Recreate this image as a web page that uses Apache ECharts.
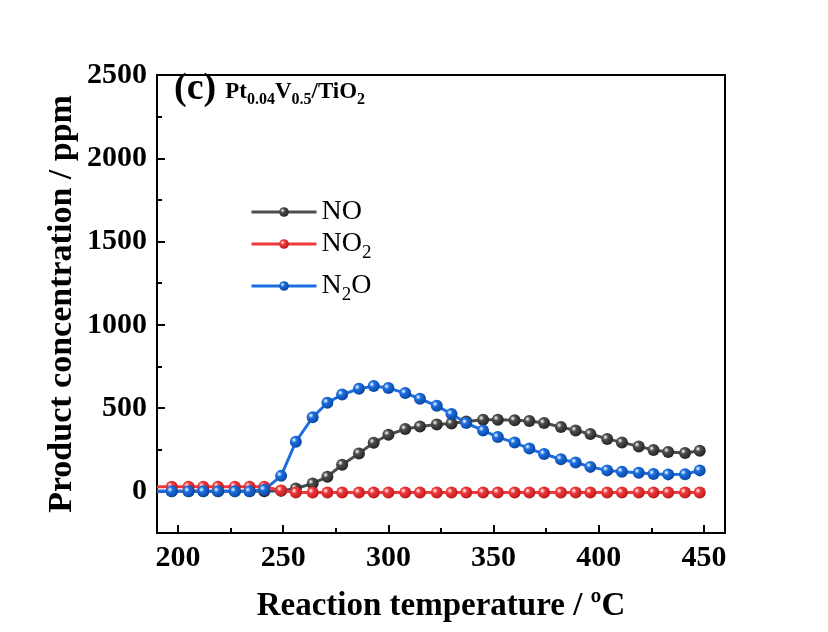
<!DOCTYPE html>
<html>
<head>
<meta charset="utf-8">
<script src="https://cdn.jsdelivr.net/npm/echarts@6/dist/echarts.min.js"></script>
<style>
  html, body {margin: 0; padding: 0; background: #fff;}
  #chart {width: 828px; height: 632px;}
</style>
</head>
<body>
<div id="chart"></div>
<script>
// temperatures of the plotted points (°C)
const temps = [190, 197, 205, 212, 219, 227, 234, 241, 249, 256, 264, 271, 278, 286, 293, 300, 308, 315, 323,
  330, 337, 345, 352, 360, 367, 374, 382, 389, 396, 404, 411, 419, 426, 433, 441, 448, 450];
// product concentrations (ppm)
const noVals = [0, 0, 0, 0, 0, 0, 0, 0, 3, 17, 47, 88, 160, 228, 292, 340, 374, 389, 402,
  408, 419, 430, 430, 427, 423, 410, 386, 365, 345, 315, 294, 270, 248, 237, 230, 244, 240];
const no2Vals = [28, 28, 28, 28, 28, 28, 28, 28, 5, -7, -7, -7, -7, -7, -7, -7, -7, -7, -7,
  -7, -7, -7, -7, -7, -7, -7, -7, -7, -7, -7, -7, -7, -7, -7, -7, -7, -7];
const n2oVals = [0, 0, 0, 0, 0, 0, 0, 9, 93, 298, 445, 532, 581, 616, 632, 620, 590, 556, 514,
  464, 410, 366, 326, 293, 257, 224, 193, 173, 147, 126, 118, 112, 104, 102, 103, 126, 128];

const xMajor = [200, 250, 300, 350, 400, 450];
const xMinor = [225, 275, 325, 375, 425];
const yMajor = [0, 500, 1000, 1500, 2000, 2500];
const yMinor = [250, 750, 1250, 1750, 2250];

const FONT = "'Liberation Serif', 'Times New Roman', serif";

const ball = (base, dark) => ({
  type: 'radial', x: 0.35, y: 0.35, r: 0.75,
  colorStops: [
    {offset: 0, color: '#ffffff'},
    {offset: 0.3, color: base},
    {offset: 1, color: dark}
  ]
});

const mkData = (vals) => temps.map((t, i) => {
  if (i === 0 || i === temps.length - 1) return {value: [t, vals[i]], symbol: 'none'};
  return [t, vals[i]];
});

const mkSeries = (name, vals, base, dark) => ({
  name: name,
  type: 'line',
  data: mkData(vals),
  symbol: 'circle',
  symbolSize: 12,
  showSymbol: true,
  lineStyle: {color: base, width: 3},
  itemStyle: {color: ball(base, dark), borderWidth: 0},
  emphasis: {disabled: true},
  animation: false
});

const rich = {
  n: {fontFamily: FONT, fontSize: 28, color: '#000'},
  s: {fontFamily: FONT, fontSize: 19, color: '#000', padding: [18, 0, 0, 0]}
};
const legendLabel = {NO: '{n|NO}', NO2: '{n|NO}{s|2}', N2O: '{n|N}{s|2}{n|O}'};
const mkLegend = (name, top) => ({
  data: [name],
  left: 250,
  top: top,
  padding: 0,
  itemWidth: 65,
  itemHeight: 12,
  itemGap: 0,
  lineStyle: {width: 3},
  formatter: (n) => legendLabel[n],
  textStyle: {rich: rich, fontFamily: FONT, fontSize: 28, color: '#000'}
});

const chart = echarts.init(document.getElementById('chart'));
chart.setOption({
  backgroundColor: '#ffffff',
  animation: false,
  grid: {left: 157, right: 103, top: 75, bottom: 99, show: true, borderColor: '#000', borderWidth: 2},
  legend: [mkLegend('NO', 198), mkLegend('NO2', 230), mkLegend('N2O', 272)],
  graphic: [{
    type: 'text',
    left: 174,
    top: 70,
    style: {
      text: '{c|(c)}{g| }{b|Pt}{s|0.04}{b|V}{s|0.5}{b|/TiO}{s|2}',
      rich: {
        c: {fontFamily: FONT, fontSize: 38, fontWeight: 'bold', color: '#000'},
        g: {fontFamily: FONT, fontSize: 22, width: 9},
        b: {fontFamily: FONT, fontSize: 23, fontWeight: 'bold', color: '#000', padding: [6, 0, 0, 0]},
        s: {fontFamily: FONT, fontSize: 16, fontWeight: 'bold', color: '#000', padding: [22, 0, 0, 0]}
      }
    }
  }],
  xAxis: [{
    type: 'value',
    min: 190,
    max: 460,
    position: 'bottom',
    name: 'Reaction temperature / ºC',
    nameLocation: 'middle',
    nameGap: 57,
    nameMoveOverlap: false,
    nameTextStyle: {fontFamily: FONT, fontSize: 33, fontWeight: 'bold', color: '#000'},
    axisLine: {show: true, onZero: false, lineStyle: {color: '#000', width: 2}},
    axisTick: {show: true, inside: true, length: 8, customValues: xMajor, lineStyle: {color: '#000', width: 2}},
    axisLabel: {customValues: xMajor, margin: 10, formatter: (v) => String(v),
      fontFamily: FONT, fontSize: 30, fontWeight: 'bold', color: '#000'},
    splitLine: {show: false}
  }, {
    type: 'value',
    min: 190,
    max: 460,
    position: 'bottom',
    axisLine: {show: false, onZero: false},
    axisTick: {show: true, inside: true, length: 5, customValues: xMinor, lineStyle: {color: '#000', width: 2}},
    axisLabel: {show: false},
    splitLine: {show: false}
  }],
  yAxis: [{
    type: 'value',
    min: -250,
    max: 2500,
    position: 'left',
    name: 'Product concentration / ppm',
    nameLocation: 'middle',
    nameGap: 78,
    nameMoveOverlap: false,
    nameTextStyle: {fontFamily: FONT, fontSize: 34, fontWeight: 'bold', color: '#000'},
    axisLine: {show: true, onZero: false, lineStyle: {color: '#000', width: 2}},
    axisTick: {show: true, inside: true, length: 8, customValues: yMajor, lineStyle: {color: '#000', width: 2}},
    axisLabel: {customValues: yMajor, margin: 10, formatter: (v) => String(v),
      fontFamily: FONT, fontSize: 30, fontWeight: 'bold', color: '#000'},
    splitLine: {show: false}
  }, {
    type: 'value',
    min: -250,
    max: 2500,
    position: 'left',
    axisLine: {show: false, onZero: false},
    axisTick: {show: true, inside: true, length: 5, customValues: yMinor, lineStyle: {color: '#000', width: 2}},
    axisLabel: {show: false},
    splitLine: {show: false}
  }],
  series: [
    mkSeries('NO', noVals, '#4d4d4d', '#1e1e1e'),
    mkSeries('NO2', no2Vals, '#f0393c', '#b01518'),
    mkSeries('N2O', n2oVals, '#1a6ee0', '#0a3f94')
  ]
});
</script>
</body>
</html>
